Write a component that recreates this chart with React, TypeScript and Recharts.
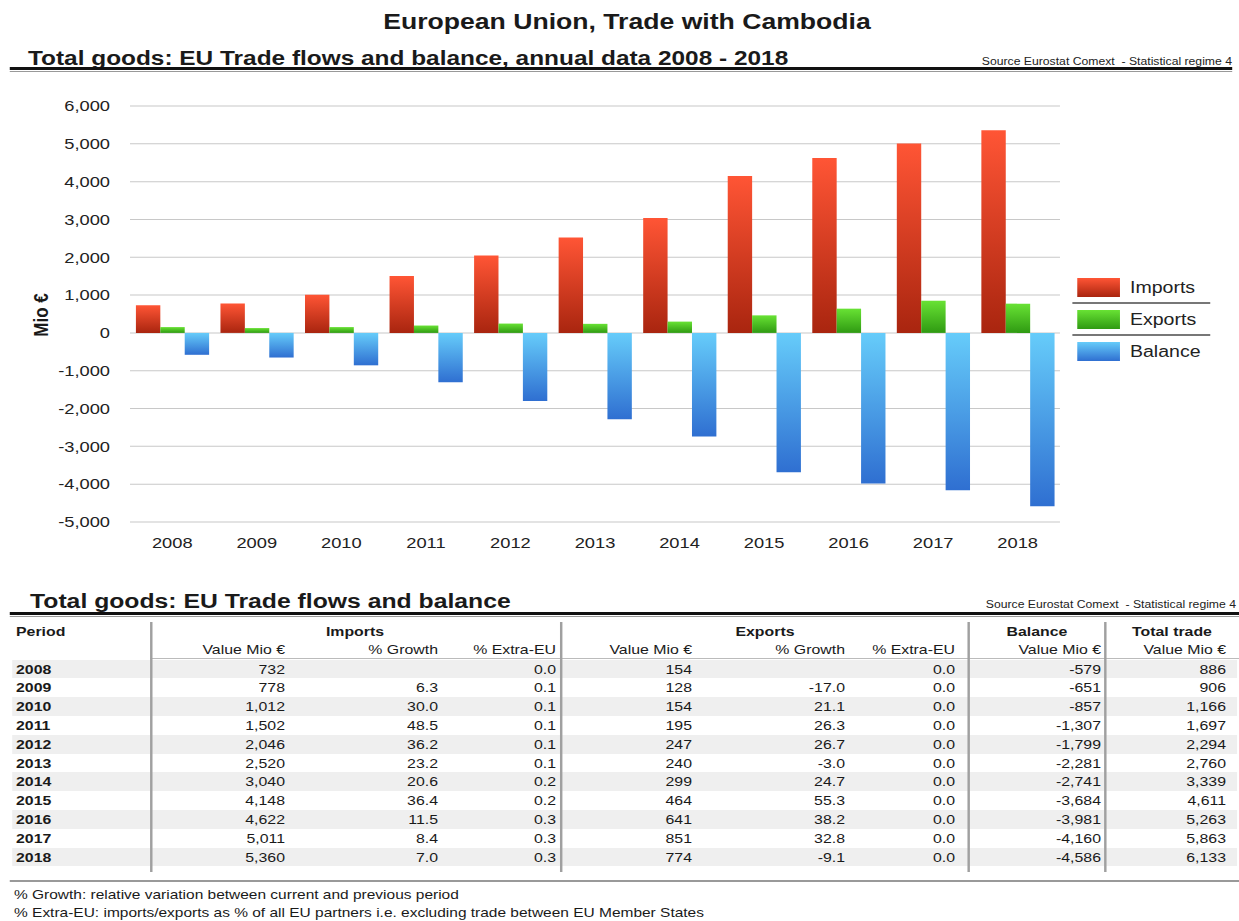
import React from 'react';
import { BarChart, Bar, XAxis, YAxis, CartesianGrid } from 'recharts';

// the reference is stretched horizontally, so the page is laid out narrow and scaled in x
const K = 1.22;
const X = (v: number) => v / K;

const years = ['2008', '2009', '2010', '2011', '2012', '2013', '2014', '2015', '2016', '2017', '2018'];
const imports = [732, 778, 1012, 1502, 2046, 2520, 3040, 4148, 4622, 5011, 5360];
const importsGrowth = [null, 6.3, 30.0, 48.5, 36.2, 23.2, 20.6, 36.4, 11.5, 8.4, 7.0];
const importsExtra = [0.0, 0.1, 0.1, 0.1, 0.1, 0.1, 0.2, 0.2, 0.3, 0.3, 0.3];
const exports = [154, 128, 154, 195, 247, 240, 299, 464, 641, 851, 774];
const exportsGrowth = [null, -17.0, 21.1, 26.3, 26.7, -3.0, 24.7, 55.3, 38.2, 32.8, -9.1];
const exportsExtra = [0.0, 0.0, 0.0, 0.0, 0.0, 0.0, 0.0, 0.0, 0.0, 0.0, 0.0];
const balance = [-579, -651, -857, -1307, -1799, -2281, -2741, -3684, -3981, -4160, -4586];
const totalTrade = [886, 906, 1166, 1697, 2294, 2760, 3339, 4611, 5263, 5863, 6133];
const yTicks = [-5000, -4000, -3000, -2000, -1000, 0, 1000, 2000, 3000, 4000, 5000, 6000];

const chartData = years.map((y, i) => ({
  year: y,
  imports: imports[i],
  exports: exports[i],
  balance: balance[i],
}));

const fmtInt = (v: number) => v.toLocaleString('en-US');
const fmt1 = (v: number | null) => (v === null ? '' : v.toFixed(1));

const columns = [
  { label: 'Value Mio €', right: 285, values: imports.map(fmtInt) },
  { label: '% Growth', right: 438, values: importsGrowth.map(fmt1) },
  { label: '% Extra-EU', right: 556, values: importsExtra.map(fmt1) },
  { label: 'Value Mio €', right: 692, values: exports.map(fmtInt) },
  { label: '% Growth', right: 845, values: exportsGrowth.map(fmt1) },
  { label: '% Extra-EU', right: 955, values: exportsExtra.map(fmt1) },
  { label: 'Value Mio €', right: 1101, values: balance.map(fmtInt) },
  { label: 'Value Mio €', right: 1226, values: totalTrade.map(fmtInt) },
];

const groups = [
  { label: 'Imports', center: 355 },
  { label: 'Exports', center: 765 },
  { label: 'Balance', center: 1037 },
  { label: 'Total trade', center: 1172 },
];

const separators = [150, 560, 968, 1104];

const legendItems = [
  { label: 'Imports', grad: ['#ff5535', '#a9250f'], y: 278 },
  { label: 'Exports', grad: ['#68e234', '#2f9a12'], y: 310 },
  { label: 'Balance', grad: ['#66ccfa', '#2f6fd1'], y: 342 },
];

const abs = (left: number, top: number, extra: React.CSSProperties = {}): React.CSSProperties => ({
  position: 'absolute',
  left: X(left),
  top,
  whiteSpace: 'nowrap',
  ...extra,
});

const DoubleRule = ({ y, w }: { y: number; w: number }) => (
  <>
    <div style={abs(10, y, { width: X(w), height: 3, background: '#111' })} />
    <div style={abs(10, y + 4, { width: X(w), height: 1, background: '#999' })} />
  </>
);

const Source = ({ right, y }: { right: number; y: number }) => (
  <div
    style={abs(right, y, {
      transform: 'translateX(-100%)',
      fontFamily: "'Liberation Sans Narrow', 'Liberation Sans', sans-serif",
      fontSize: 10,
      color: '#222',
      lineHeight: '10px',
    })}
  >
    Source Eurostat Comext&nbsp; - Statistical regime 4
  </div>
);

export default function App() {
  const rowY = (i: number) => 669 + i * 18.8;

  return (
    <div
      style={{
        position: 'absolute',
        left: 0,
        top: 0,
        width: X(1239),
        height: 921,
        background: '#fff',
        transform: `scaleX(${K})`,
        transformOrigin: '0 0',
        fontFamily: "'Liberation Sans', Arial, sans-serif",
        color: '#1a1a1a',
        overflow: 'hidden',
      }}
    >
      {/* headings */}
      <div style={abs(0, 10, { width: X(1254), textAlign: 'center', fontSize: 21.8, fontWeight: 'bold', lineHeight: '24px' })}>
        European Union, Trade with Cambodia
      </div>
      <div style={abs(28, 46, { fontSize: 20, fontWeight: 'bold', lineHeight: '24px' })}>
        Total goods: EU Trade flows and balance, annual data 2008 - 2018
      </div>
      <Source right={1232} y={57} />
      <DoubleRule y={67} w={1222} />

      {/* chart */}
      <div style={abs(0, 0)}>
        <BarChart
          width={X(1060)}
          height={560}
          data={chartData}
          margin={{ top: 106, right: 0, bottom: 8, left: X(30) }}
          barCategoryGap="7%"
          barGap={0}
        >
          <defs>
            <linearGradient id="gImp" x1="0" y1="0" x2="0" y2="1">
              <stop offset="0%" stopColor="#ff5535" />
              <stop offset="100%" stopColor="#a9250f" />
            </linearGradient>
            <linearGradient id="gExp" x1="0" y1="0" x2="0" y2="1">
              <stop offset="0%" stopColor="#68e234" />
              <stop offset="100%" stopColor="#2f9a12" />
            </linearGradient>
            <linearGradient id="gBal" x1="0" y1="0" x2="0" y2="1">
              <stop offset="0%" stopColor="#66ccfa" />
              <stop offset="100%" stopColor="#2f6fd1" />
            </linearGradient>
          </defs>
          <CartesianGrid vertical={false} stroke="#c8c8c8" />
          <XAxis
            dataKey="year"
            axisLine={false}
            tickLine={false}
            tickSize={0}
            tickMargin={15}
            height={30}
            tick={{ fontSize: 15, fill: '#222' }}
          />
          <YAxis
            domain={[-5000, 6000]}
            ticks={yTicks}
            interval={0}
            axisLine={false}
            tickLine={false}
            tickSize={0}
            tickMargin={X(20)}
            width={X(100)}
            tickFormatter={(v: number) => v.toLocaleString('en-US')}
            tick={{ fontSize: 15, fill: '#222' }}
          />
          <Bar dataKey="imports" fill="url(#gImp)" isAnimationActive={false} />
          <Bar dataKey="exports" fill="url(#gExp)" isAnimationActive={false} />
          <Bar dataKey="balance" fill="url(#gBal)" isAnimationActive={false} />
        </BarChart>
      </div>

      {/* axis title */}
      <div
        style={abs(42, 315, {
          transform: 'translate(-50%, -50%) rotate(-90deg)',
          fontSize: 17,
          fontWeight: 'bold',
          lineHeight: '18px',
        })}
      >
        Mio €
      </div>

      {/* legend */}
      {legendItems.map((it, i) => (
        <React.Fragment key={it.label}>
          <div
            style={abs(1077, it.y, {
              width: X(43),
              height: 19,
              background: `linear-gradient(${it.grad[0]}, ${it.grad[1]})`,
            })}
          />
          <div style={abs(1130, it.y, { fontSize: 16, lineHeight: '19px', color: '#222' })}>{it.label}</div>
          {i < legendItems.length - 1 && (
            <div style={abs(1072, it.y + 24, { width: X(138), height: 2, background: '#777' })} />
          )}
        </React.Fragment>
      ))}

      {/* table */}
      <div style={abs(30, 589, { fontSize: 20.3, fontWeight: 'bold', lineHeight: '24px' })}>
        Total goods: EU Trade flows and balance
      </div>
      <Source right={1236} y={600} />
      <DoubleRule y={612} w={1229} />

      {years.map((_, i) =>
        i % 2 === 0 ? (
          <div key={'band' + i} style={abs(12, rowY(i) - 9.4, { width: X(1225), height: 18.8, background: '#efefef' })} />
        ) : null
      )}

      <div style={abs(150, 658, { width: X(1089), height: 1, background: '#bbb' })} />

      {separators.map((x) => (
        <div key={'sep' + x} style={abs(x, 622, { width: X(2), height: 250, background: '#a0a0a0' })} />
      ))}

      <div style={abs(16, 624, { fontSize: 13, fontWeight: 'bold', lineHeight: '15px' })}>Period</div>
      {groups.map((g) => (
        <div
          key={g.label}
          style={abs(g.center, 624, { transform: 'translateX(-50%)', fontSize: 13, fontWeight: 'bold', lineHeight: '15px' })}
        >
          {g.label}
        </div>
      ))}
      {columns.map((c, ci) => (
        <div
          key={'h' + ci}
          style={abs(c.right, 642, { transform: 'translateX(-100%)', fontSize: 13, lineHeight: '15px' })}
        >
          {c.label}
        </div>
      ))}

      {years.map((y, i) => (
        <React.Fragment key={'row' + y}>
          <div style={abs(16, rowY(i) - 7.5, { fontSize: 13, fontWeight: 'bold', lineHeight: '15px' })}>{y}</div>
          {columns.map((c, ci) => (
            <div
              key={ci}
              style={abs(c.right, rowY(i) - 7.5, { transform: 'translateX(-100%)', fontSize: 13, lineHeight: '15px' })}
            >
              {c.values[i]}
            </div>
          ))}
        </React.Fragment>
      ))}

      <div style={abs(10, 880, { width: X(1229), height: 2, background: '#999' })} />
      <div style={abs(14, 888, { fontSize: 12.7, lineHeight: '14px' })}>
        % Growth: relative variation between current and previous period
      </div>
      <div style={abs(14, 906, { fontSize: 12.7, lineHeight: '14px' })}>
        % Extra-EU: imports/exports as % of all EU partners i.e. excluding trade between EU Member States
      </div>
    </div>
  );
}
